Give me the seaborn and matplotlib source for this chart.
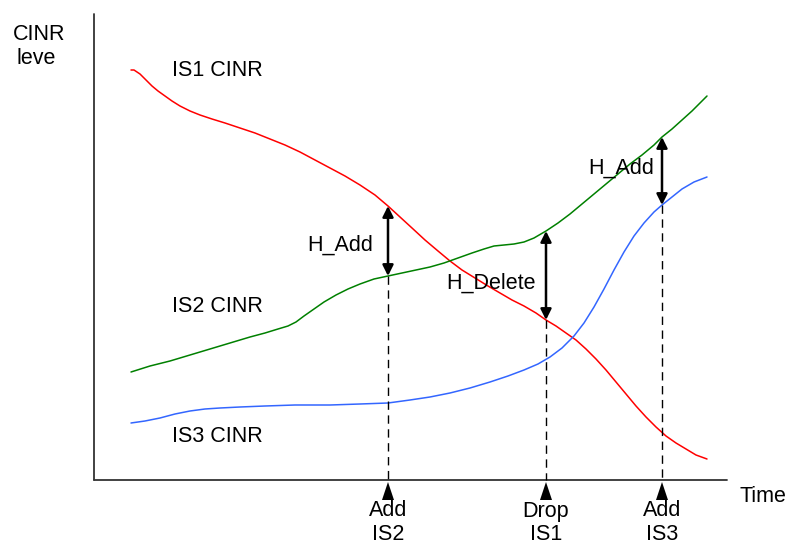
import matplotlib.pyplot as plt
import pandas as pd
import seaborn as sns

# Curve points (x = time position, y = level, screen units)
is1_x = [131, 134, 137, 140, 143, 147, 152, 158, 165, 172, 180, 190, 200, 212, 225, 240, 255, 270, 285, 300, 315, 330, 345, 360, 375, 388, 400, 412, 425, 438, 450, 462, 475, 488, 500, 512, 524, 536, 546, 556, 566, 576, 586, 596, 606, 616, 626, 636, 646, 656, 666, 676, 686, 696, 707]
is1_y = [70, 70, 72, 74, 77, 81, 86, 91, 96, 101, 106, 111, 115, 119, 123, 128, 133, 139, 145, 152, 160, 168, 176, 185, 195, 206, 217, 228, 240, 251, 261, 270, 278, 286, 293, 300, 306, 313, 320, 326, 333, 340, 349, 359, 370, 382, 394, 406, 417, 427, 436, 443, 449, 455, 459]

is2_x = [131, 150, 170, 190, 210, 230, 250, 265, 278, 288, 296, 304, 314, 324, 336, 348, 360, 374, 388, 402, 416, 430, 444, 458, 472, 484, 494, 504, 514, 524, 534, 546, 558, 570, 582, 594, 606, 618, 630, 642, 654, 662, 672, 682, 692, 700, 707]
is2_y = [372, 366, 361, 355, 349, 343, 337, 333, 329, 326, 322, 316, 309, 302, 295, 289, 284, 279, 276, 273, 270, 267, 263, 258, 253, 249, 246, 245, 244, 242, 238, 231, 223, 214, 204, 194, 184, 174, 164, 155, 145, 137, 129, 120, 111, 103, 96]

is3_x = [131, 145, 160, 175, 190, 205, 220, 240, 265, 295, 330, 360, 388, 410, 430, 450, 470, 490, 508, 524, 538, 550, 562, 574, 584, 594, 604, 614, 624, 634, 644, 654, 662, 672, 682, 694, 707]
is3_y = [423, 421, 418, 414, 411, 409, 408, 407, 406, 405, 405, 404, 403, 400, 397, 393, 388, 382, 376, 370, 364, 357, 348, 336, 323, 307, 289, 270, 252, 236, 223, 212, 205, 197, 189, 182, 177]

# Events on the time axis
event_x = [388, 546, 662]
event_labels = ['Add\nIS2', 'Drop\nIS1', 'Add\nIS3']
dash_top = [276, 320, 205]
arrow_top = [206, 231, 137]
arrow_bottom = [276, 320, 205]
hyst_labels = ['H_Add', 'H_Delete', 'H_Add']
hyst_label_pos = [(307, 245), (446, 283), (588, 168)]

curve_labels = ['IS1 CINR', 'IS2 CINR', 'IS3 CINR']
curve_label_pos = [(172, 70), (172, 306), (172, 437)]

df = pd.concat([
    pd.DataFrame({'x': is1_x, 'y': is1_y, 'curve': 'IS1'}),
    pd.DataFrame({'x': is2_x, 'y': is2_y, 'curve': 'IS2'}),
    pd.DataFrame({'x': is3_x, 'y': is3_y, 'curve': 'IS3'}),
])

sns.set_theme(style='white')
plt.rcParams['font.family'] = ['Liberation Sans', 'DejaVu Sans']
plt.rcParams['text.color'] = 'black'

fig = plt.figure(figsize=(7.87, 5.45), dpi=100)
ax = fig.add_axes([0, 0, 1, 1])

sns.lineplot(data=df, x='x', y='y', hue='curve', sort=False, estimator=None,
             palette={'IS1': '#ff0000', 'IS2': '#008000', 'IS3': '#3366ff'},
             linewidth=1.1, legend=False, ax=ax)

# Axes of the diagram
ax.plot([94, 94], [14, 480], color='#333333', lw=1.3)
ax.plot([94, 727], [480, 480], color='#333333', lw=1.3)

fs = 15.5
ax.text(13, 34, 'CINR', fontsize=fs, va='center', ha='left')
ax.text(17, 58, 'leve', fontsize=fs, va='center', ha='left')
ax.text(739, 496, 'Time', fontsize=fs, va='center', ha='left')

for (tx, ty), lab in zip(curve_label_pos, curve_labels):
    ax.text(tx, ty, lab, fontsize=fs, va='center', ha='left')

for ex, top, a0, a1, lab, (hx, hy), elab in zip(event_x, dash_top, arrow_top, arrow_bottom,
                                                hyst_labels, hyst_label_pos, event_labels):
    ax.plot([ex, ex], [top, 480], color='black', lw=1, ls=(0, (6, 4)))
    ax.annotate('', xy=(ex, a0), xytext=(ex, a1),
                arrowprops=dict(arrowstyle='<|-|>', color='black', lw=1.8,
                                mutation_scale=16, shrinkA=0, shrinkB=0))
    ax.fill([ex, ex - 6, ex + 6], [482, 500, 500], color='black', lw=0)
    ax.text(hx, hy, lab, fontsize=fs, va='center', ha='left')
    line1, line2 = elab.split('\n')
    ax.text(ex, 511, line1, fontsize=fs, va='center', ha='center')
    ax.text(ex, 535, line2, fontsize=fs, va='center', ha='center')

ax.set_xlim(0, 787)
ax.set_ylim(545, 0)
ax.axis('off')

plt.savefig('out.png', dpi=100)
